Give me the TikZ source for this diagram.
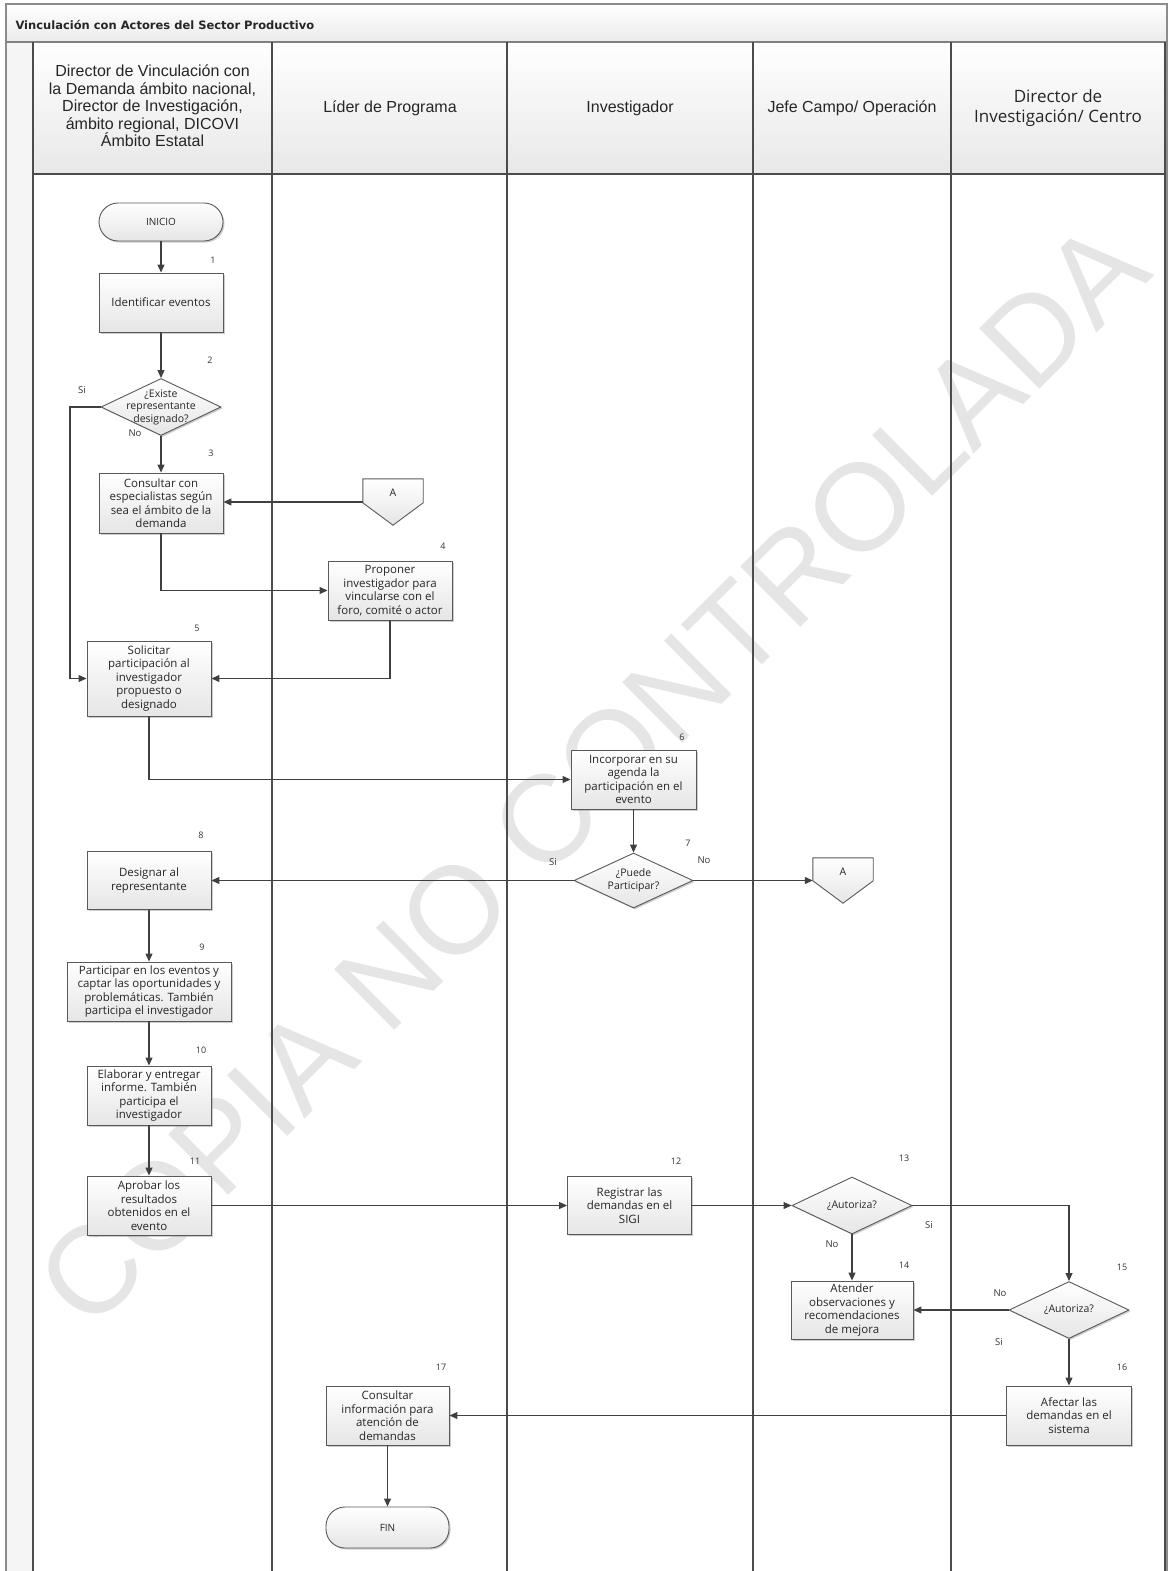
\documentclass[tikz,border=0pt]{standalone}
\usepackage{fontspec}
\setmainfont{Liberation Sans}
\newfontfamily\nodefont{Open Sans}
\newfontfamily\titlefont{DejaVu Sans}
\usetikzlibrary{shapes.geometric,arrows.meta,shadows,calc}

\begin{document}
\begin{tikzpicture}[x=1pt,y=-1pt,
  lanel/.style={draw=black!70, line width=1.3pt},
  hdr/.style={font=\fontsize{16}{17.5}\selectfont, text=black!85, align=center},
  procbox/.style={rectangle, draw=black!65, line width=0.9pt, top color=white, bottom color=black!10,
     font=\nodefont\fontsize{11.5}{13.5}\selectfont, text=black!85, align=center,
     minimum width=124pt, minimum height=59pt, inner sep=2pt,
     drop shadow={shadow xshift=1.5pt,shadow yshift=-1.5pt,fill=black!50,opacity=.4}},
  decis/.style={diamond, draw=black!65, line width=0.9pt, top color=white, bottom color=black!10,
     minimum width=120pt, minimum height=57pt, inner sep=0pt,
     drop shadow={shadow xshift=1.5pt,shadow yshift=-1.5pt,fill=black!50,opacity=.4}},
  dtext/.style={font=\nodefont\fontsize{10.5}{12.5}\selectfont, text=black!85, align=center, inner sep=0pt},
  term/.style={rectangle, rounded corners=19pt, draw=black!65, line width=0.9pt, top color=white, bottom color=black!10,
     font=\nodefont\fontsize{10}{12}\selectfont, text=black!85, minimum width=124pt, minimum height=38pt,
     drop shadow={shadow xshift=1.5pt,shadow yshift=-1.5pt,fill=black!50,opacity=.4}},
  offbox/.style={minimum width=60pt, minimum height=46pt, inner sep=0pt},
  offp/.style={draw=black!65, line width=0.9pt, top color=white, bottom color=black!10},
  num/.style={font=\nodefont\fontsize{9}{10}\selectfont, text=black!80, inner sep=0pt},
  yn/.style={font=\nodefont\fontsize{9.5}{10}\selectfont, text=black!80, inner sep=0pt},
  arr/.style={draw=black!75, line width=1.1pt, -{Triangle[length=8pt,width=7pt]}}
]
\useasboundingbox (0,0) rectangle (1169,1571);
\clip (0,0) rectangle (1169,1571);

% ---- frame, title bar, header ----
\shade[top color=white, bottom color=black!8] (6,4) rectangle (1167,42);
\fill[black!4] (6,42) rectangle (33,1580);
\foreach \a/\b in {33/272,272/507,507/753,753/951,951/1165}{
  \shade[top color=white, bottom color=black!9] (\a,42) rectangle (\b,174);
}
\node[anchor=west, font=\titlefont\bfseries\fontsize{11.5}{13}\selectfont, text=black!85] (title) at (12,25) {Vinculación con Actores del Sector Productivo};

% watermark
\node[rotate=44.8, text=black!10, font=\fontsize{124}{124}\selectfont, inner sep=0pt] (wm) at (592,774) {COPIA NO CONTROLADA};

\draw[black!45, line width=2.5pt] (6,4) rectangle (1167,1590);
\draw[lanel, black!50] (6,42) -- (1167,42);
\draw[lanel] (33,174) -- (1165,174);
\foreach \x in {33,272,507,753,951,1165}{
  \draw[lanel] (\x,42) -- (\x,1590);
}

\node[hdr] (h1) at (152.5,106) {Director de Vinculación con\\la Demanda ámbito nacional,\\Director de Investigación,\\ámbito regional, DICOVI\\Ámbito Estatal};
\node[hdr] (h2) at (390,108) {Líder de Programa};
\node[hdr] (h3) at (630,108) {Investigador};
\node[hdr] (h4) at (852,108) {Jefe Campo/ Operación};
\node[hdr, font=\nodefont\fontsize{17}{19.5}\selectfont] (h5) at (1058,108) {Director de\\Investigación/ Centro};

% ---- nodes ----
\node[term] (ini) at (161,222) {INICIO};
\node[procbox] (b1) at (161,302.5) {Identificar eventos};
\node[decis] (d2) at (161,407) {};
\node[dtext] (d2t) at (d2.center) {¿Existe\\representante\\designado?};
\node[procbox, minimum height=60pt] (b3) at (161,503) {Consultar con\\especialistas según\\sea el ámbito de la\\demanda};
\node[offbox] (A1) at (393,502) {};
\draw[offp] (A1.north west) -- (A1.north east) -- ([yshift=-24pt]A1.north east) -- (A1.south) -- ([yshift=-24pt]A1.north west) -- cycle;
\node[dtext] (A1t) at ([yshift=-14pt]A1.north) {A};
\node[procbox] (b4) at (390,590.5) {Proponer\\investigador para\\vincularse con el\\foro, comité o actor};
\node[procbox, minimum height=75pt] (b5) at (149,678.5) {Solicitar\\participación al\\investigador\\propuesto o\\designado};
\node[procbox, minimum width=125pt] (b6) at (633.5,779.5) {Incorporar en su\\agenda la\\participación en el\\evento};
\node[decis, minimum width=119pt, minimum height=55pt] (d7) at (633.5,880.5) {};
\node[dtext] (d7t) at (d7.center) {¿Puede\\Participar?};
\node[offbox, minimum height=45pt] (A2) at (843,880.5) {};
\draw[offp] (A2.north west) -- (A2.north east) -- ([yshift=-23pt]A2.north east) -- (A2.south) -- ([yshift=-23pt]A2.north west) -- cycle;
\node[dtext] (A2t) at ([yshift=-14pt]A2.north) {A};
\node[procbox, minimum height=58pt] (b8) at (149,880.5) {Designar al\\representante};
\node[procbox, minimum width=164pt] (b9) at (149,991.5) {Participar en los eventos y\\captar las oportunidades y\\problemáticas. También\\participa el investigador};
\node[procbox] (b10) at (149,1095.5) {Elaborar y entregar\\informe. También\\participa el\\investigador};
\node[procbox] (b11) at (149,1205.5) {Aprobar los\\resultados\\obtenidos en el\\evento};
\node[procbox, minimum height=58pt] (b12) at (629.5,1205.5) {Registrar las\\demandas en el\\SIGI};
\node[decis] (d13) at (852,1205.5) {};
\node[dtext] (d13t) at (d13.center) {¿Autoriza?};
\node[procbox, minimum width=122pt, minimum height=58pt] (b14) at (852,1310) {Atender\\observaciones y\\recomendaciones\\de mejora};
\node[decis] (d15) at (1069,1310) {};
\node[dtext] (d15t) at (d15.center) {¿Autoriza?};
\node[procbox, minimum width=125pt] (b16) at (1069,1415.5) {Afectar las\\demandas en el\\sistema};
\node[procbox, minimum width=123pt] (b17) at (387.5,1415.5) {Consultar\\información para\\atención de\\demandas};
\node[term, minimum width=123pt, minimum height=41pt] (fin) at (387.5,1527.5) {FIN};

% ---- step numbers ----
\node[num] (n1) at (213,260) {1};
\node[num] (n2) at (210,360) {2};
\node[num] (n3) at (211,453) {3};
\node[num] (n4) at (443,546) {4};
\node[num] (n5) at (197,628) {5};
\node[num] (n6) at (682,737) {6};
\node[num] (n7) at (688,843) {7};
\node[num] (n8) at (201,835) {8};
\node[num] (n9) at (202,947) {9};
\node[num] (n10) at (201,1050) {10};
\node[num] (n11) at (195,1161) {11};
\node[num] (n12) at (676,1161) {12};
\node[num] (n13) at (904,1158) {13};
\node[num] (n14) at (904,1265) {14};
\node[num] (n15) at (1122,1267) {15};
\node[num] (n16) at (1122,1367) {16};
\node[num] (n17) at (441,1367) {17};

% ---- Si / No ----
\node[yn] (s2) at (82,390) {Si};
\node[yn] (no2) at (135,433) {No};
\node[yn] (s7) at (553,862) {Si};
\node[yn] (no7) at (704,860) {No};
\node[yn] (s13) at (929,1225) {Si};
\node[yn] (no13) at (832,1244) {No};
\node[yn] (no15) at (1000,1293) {No};
\node[yn] (s15) at (999,1342) {Si};

% ---- connectors ----
\coordinate (siX) at (70,407);
\draw[arr] (ini) -- (b1);
\draw[arr] (b1) -- (d2);
\draw[arr] (d2.west) -- (siX) |- (b5.west);
\draw[arr] (d2.south) -- (b3.north);
\draw[arr] (A1.west) -- (A1.west -| b3.east);
\draw[arr] (b3.south) |- (b4.west);
\draw[arr] (b4.south) |- (b5.east);
\draw[arr] (b5.south) |- (b6.west);
\draw[arr] (b6.south) -- (d7.north);
\draw[arr] (d7.east) -- (d7.east -| A2.west);
\draw[arr] (d7.west) -- (d7.west -| b8.east);
\draw[arr] (b8) -- (b9);
\draw[arr] (b9) -- (b10);
\draw[arr] (b10) -- (b11);
\draw[arr] (b11.east) -- (b12.west);
\draw[arr] (b12.east) -- (d13.west);
\draw[arr] (d13.east) -| (d15.north);
\draw[arr] (d13.south) -- (b14.north);
\draw[arr] (d15.west) -- (b14.east);
\draw[arr] (d15.south) -- (b16.north);
\draw[arr] (b16.west) -- (b17.east);
\draw[arr] (b17) -- (fin);
\end{tikzpicture}
\end{document}
